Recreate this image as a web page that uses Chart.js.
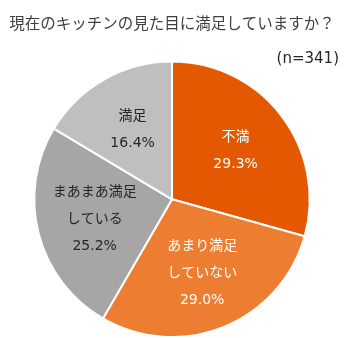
<!DOCTYPE html>
<html>
<head>
<meta charset="utf-8">
<script src="https://cdn.jsdelivr.net/npm/chart.js@4.4.1/dist/chart.umd.min.js"></script>
<style>
  html, body { margin: 0; padding: 0; background: #fff; }
  #wrap { width: 344px; height: 338px; }
</style>
</head>
<body>
<div id="wrap"><canvas id="pieChart"></canvas></div>
<script>
// data
const titleText = "現在のキッチンの見た目に満足していますか？";
const sampleText = "(n=341)";
const categories = ["不満", "あまり満足\nしていない", "まあまあ満足\nしている", "満足"];
const percents = [29.3, 29.0, 25.2, 16.4];
const sliceColors = ["#E35800", "#ED7D31", "#A6A6A6", "#BFBFBF"];
const labelColors = ["#FFFFFF", "#FFFFFF", "#262626", "#262626"];

const FONT = "'DejaVu Sans', 'Noto Sans CJK JP', sans-serif";

// draw category + percent inside each slice
const sliceLabels = {
    id: "sliceLabels",
    afterDatasetsDraw(chart) {
        const ctx = chart.ctx;
        const meta = chart.getDatasetMeta(0);
        ctx.save();
        ctx.font = "14px " + FONT;
        ctx.textAlign = "center";
        ctx.textBaseline = "middle";
        meta.data.forEach((arc, i) => {
            const p = arc.getProps(["x", "y", "startAngle", "endAngle", "outerRadius"], true);
            const mid = (p.startAngle + p.endAngle) / 2;
            const r = p.outerRadius * 0.58;
            const cx = p.x + Math.cos(mid) * r;
            const cy = p.y + Math.sin(mid) * r;
            const lines = categories[i].split("\n").concat([percents[i].toFixed(1) + "%"]);
            const lh = 27;
            const top = cy - (lines.length - 1) * lh / 2;
            ctx.fillStyle = labelColors[i];
            lines.forEach((ln, k) => ctx.fillText(ln, cx, top + k * lh));
        });
        ctx.restore();
    }
};

// sample size at top right
const sampleLabel = {
    id: "sampleLabel",
    afterDraw(chart) {
        const ctx = chart.ctx;
        ctx.save();
        ctx.font = "15px " + FONT;
        ctx.fillStyle = "#262626";
        ctx.textAlign = "right";
        ctx.textBaseline = "middle";
        ctx.fillText(sampleText, 339, 59);
        ctx.restore();
    }
};

new Chart(document.getElementById("pieChart"), {
    type: "pie",
    data: {
        labels: categories,
        datasets: [{
            data: percents,
            backgroundColor: sliceColors,
            borderColor: "#FFFFFF",
            borderWidth: 2
        }]
    },
    options: {
        responsive: true,
        maintainAspectRatio: false,
        animation: false,
        layout: { padding: 0 },
        plugins: {
            legend: { display: false },
            tooltip: { enabled: false },
            title: {
                display: true,
                text: titleText,
                color: "#404040",
                font: { family: FONT, size: 15.5, weight: "normal" },
                padding: { top: 16, bottom: 26 }
            }
        }
    },
    plugins: [sliceLabels, sampleLabel]
});
</script>
</body>
</html>
